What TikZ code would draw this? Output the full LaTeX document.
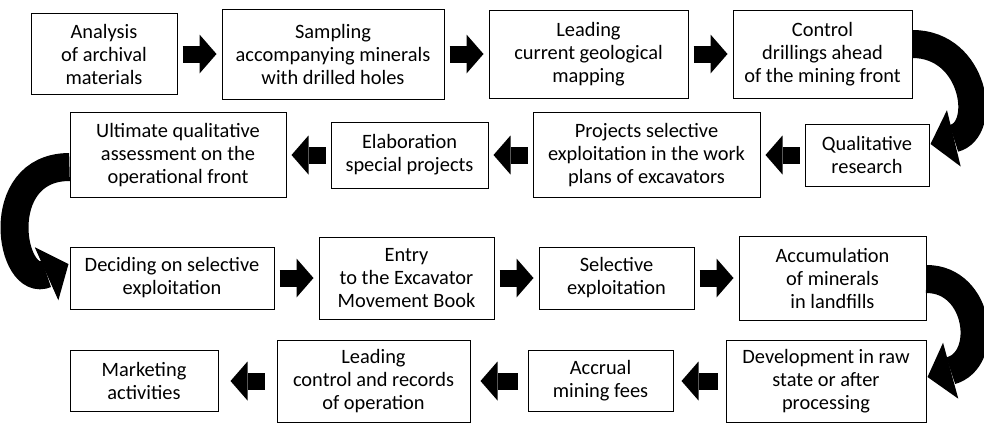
\documentclass[tikz,border=0pt]{standalone}
\usepackage{fontspec}
\setmainfont{Carlito}
\usetikzlibrary{arrows.meta}
\begin{document}
\begin{tikzpicture}[x=1pt,y=-1pt,
  box/.style={draw=black, line width=1pt, align=center, inner sep=0pt,
    font=\fontsize{20.4}{23}\selectfont, text=black, fill=white},
  flow/.style={line width=17pt,
    -{Triangle[length=17pt 0 0, width=39pt 0 0, line width=0pt 0 0]},
    shorten <=#1, shorten >=#1},
  flow/.default=5pt,
  curvearrow/.style={line width=28pt,
    -{Triangle[length=24pt 0 0, width=58pt 0 0, line width=0pt 0 0]}}
]
\useasboundingbox (0,0) rectangle (984,424);
% Row 1
\node[box, minimum width=146pt, minimum height=81pt] (b1) at (104,54) {Analysis\\of archival\\materials};
\node[box, minimum width=222pt, minimum height=90pt] (b2) at (333,54) {Sampling\\accompanying minerals\\with drilled holes};
\node[box, minimum width=199pt, minimum height=88pt] (b3) at (588.5,54) {Leading\\current geological\\mapping};
\node[box, minimum width=179pt, minimum height=88pt] (b4) at (822.5,54) {Control\\drillings ahead\\of the mining front};
% Row 2
\node[box, minimum width=216pt, minimum height=85pt] (b5) at (178,155) {Ultimate qualitative\\assessment on the\\operational front};
\node[box, minimum width=157pt, minimum height=66pt] (b6) at (409.5,155) {Elaboration\\special projects};
\node[box, minimum width=227pt, minimum height=85pt] (b7) at (646.5,155) {Projects selective\\exploitation in the work\\plans of excavators};
\node[box, minimum width=124pt, minimum height=62pt] (b8) at (867,155) {Qualitative\\research};
% Row 3
\node[box, minimum width=204pt, minimum height=62pt] (b9) at (172,278) {Deciding on selective\\exploitation};
\node[box, minimum width=175pt, minimum height=82pt] (b10) at (406.5,278) {Entry\\to the Excavator\\Movement Book};
\node[box, minimum width=155pt, minimum height=62pt] (b11) at (616.5,278) {Selective\\exploitation};
\node[box, minimum width=187pt, minimum height=84pt] (b12) at (832.5,278) {Accumulation\\of minerals\\in landfills};
% Row 4
\node[box, minimum width=148pt, minimum height=61pt] (b13) at (144,381) {Marketing\\activities};
\node[box, minimum width=193pt, minimum height=82pt] (b14) at (373.5,381) {Leading\\control and records\\of operation};
\node[box, minimum width=145pt, minimum height=61pt] (b15) at (600.5,381) {Accrual\\mining fees};
\node[box, minimum width=200pt, minimum height=82pt] (b16) at (826,381) {Development in raw\\state or after\\processing};
% straight arrows
\draw[flow] (b1) -- (b2);
\draw[flow] (b2) -- (b3);
\draw[flow] (b3) -- (b4);
\draw[flow] (b8) -- (b7);
\draw[flow] (b7) -- (b6);
\draw[flow] (b6) -- (b5);
\draw[flow] (b9) -- (b10);
\draw[flow] (b10) -- (b11);
\draw[flow] (b11) -- (b12);
\draw[flow=8pt] (b16) -- (b15);
\draw[flow=10pt] (b15) -- (b14);
\draw[flow=12pt] (b14) -- (b13);
% curved arrows
\draw[curvearrow] ([yshift=10pt]b4.east) .. controls (975,44) and (988,130) .. ([yshift=11pt,xshift=1pt]b8.east);
\draw[curvearrow] ([yshift=-12pt]b5.west) .. controls (-10,167) and (10,290) .. ([yshift=14pt,xshift=-1pt]b9.west);
\draw[curvearrow] ([yshift=-1pt]b12.east) .. controls (980,279) and (990,360) .. ([yshift=4pt,xshift=1pt]b16.east);
\end{tikzpicture}
\end{document}
